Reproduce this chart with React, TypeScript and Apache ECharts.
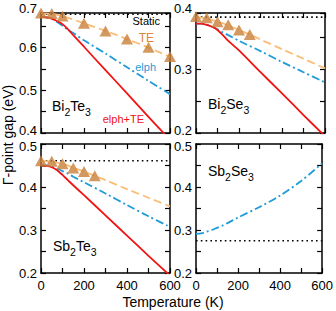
import React, { useEffect, useRef } from 'react';
import * as echarts from 'echarts';

const FONT = '"Liberation Sans", Arial, Helvetica, sans-serif';

// Temperatures (K) used for the continuous curves
const curveT = [0, 25, 50, 75, 100, 125, 150, 200, 300, 400, 500, 600];
const xTicks = [0, 200, 400, 600];

// Bi2Te3
const btStatic = 0.678;
const btTeT = [0, 50, 100, 200, 300, 400, 500, 600];
const btTe = [0.681, 0.68, 0.674, 0.657, 0.639, 0.62, 0.601, 0.579];
const btTeLine = [0.68, 0.679, 0.674, 0.657, 0.639, 0.62, 0.6, 0.578];
const btElph = [0.672, 0.671, 0.667, 0.66, 0.651, 0.642, 0.634, 0.617, 0.586, 0.554, 0.522, 0.491];
const btFull = [0.672, 0.671, 0.668, 0.662, 0.655, 0.643, 0.629, 0.602, 0.547, 0.493, 0.438, 0.384];

// Bi2Se3
const bsStatic = 0.381;
const bsTeT = [0, 50, 100, 150, 200, 250];
const bsTe = [0.382, 0.38, 0.374, 0.369, 0.361, 0.354];
const bsTeLineT = [0, 50, 100, 150, 200, 250, 300, 400, 500, 600];
const bsTeLine = [0.381, 0.379, 0.374, 0.368, 0.361, 0.354, 0.346, 0.331, 0.316, 0.301];
const bsElph = [0.371, 0.371, 0.369, 0.366, 0.362, 0.357, 0.353, 0.344, 0.328, 0.311, 0.295, 0.279];
const bsFull = [0.371, 0.371, 0.369, 0.366, 0.361, 0.353, 0.344, 0.329, 0.295, 0.262, 0.228, 0.195];

// Sb2Te3
const stStatic = 0.461;
const stTeT = [0, 50, 100, 150, 200, 250];
const stTe = [0.461, 0.46, 0.454, 0.444, 0.436, 0.426];
const stTeLineT = [0, 50, 100, 150, 200, 250, 300, 400, 500, 600];
const stTeLine = [0.46, 0.459, 0.454, 0.445, 0.436, 0.426, 0.416, 0.395, 0.375, 0.355];
const stElph = [0.45, 0.45, 0.447, 0.443, 0.437, 0.431, 0.424, 0.411, 0.385, 0.358, 0.332, 0.307];
const stFull = [0.45, 0.449, 0.446, 0.439, 0.428, 0.416, 0.404, 0.381, 0.334, 0.287, 0.24, 0.194];

// Sb2Se3
const ssStatic = 0.275;
const ssElph = [0.291, 0.292, 0.296, 0.3, 0.305, 0.31, 0.316, 0.329, 0.353, 0.38, 0.414, 0.455];

const RED = '#f01414';
const BLUE = '#1f9bd7';
const ORANGE_LINE = '#fbbd76';
const TRI = '#c8803a';
const TE_TEXT = '#e0843c';

type Panel = {
  grid: { left: number; top: number; width: number; height: number };
  ymin: number;
  ymax: number;
  topLabel?: string;
  row: 'top' | 'bottom';
  staticV: number;
  teT?: number[];
  te?: number[];
  teLineT?: number[];
  teLine?: number[];
  elph: number[];
  full?: number[];
};

const panels: Panel[] = [
  {
    grid: { left: 41, top: 13, width: 129, height: 120 },
    ymin: 0.4, ymax: 0.681, topLabel: '0.7', row: 'top',
    staticV: btStatic, teT: btTeT, te: btTe, teLineT: btTeT, teLine: btTeLine, elph: btElph, full: btFull,
  },
  {
    grid: { left: 196, top: 13, width: 129, height: 120 },
    ymin: 0.2, ymax: 0.3875, topLabel: '0.4', row: 'top',
    staticV: bsStatic, teT: bsTeT, te: bsTe, teLineT: bsTeLineT, teLine: bsTeLine, elph: bsElph, full: bsFull,
  },
  {
    grid: { left: 41, top: 144, width: 129, height: 129 },
    ymin: 0.2, ymax: 0.5, row: 'bottom',
    staticV: stStatic, teT: stTeT, te: stTe, teLineT: stTeLineT, teLine: stTeLine, elph: stElph, full: stFull,
  },
  {
    grid: { left: 196, top: 144, width: 129, height: 129 },
    ymin: 0.2, ymax: 0.5, row: 'bottom',
    staticV: ssStatic, elph: ssElph,
  },
];

const zip = (xs: number[], ys: number[]) => xs.map((x, i) => [x, ys[i]]);

function buildOption() {
  const grids = panels.map((p) => ({ ...p.grid, containLabel: false }));
  const tickStyle = { inside: true, length: 5, lineStyle: { color: '#000', width: 1.2 } };
  const lineStyle = { lineStyle: { color: '#000', width: 1.5 } };
  const lbl = { fontSize: 13, lineHeight: 10, fontFamily: FONT, color: '#000' };
  const xAxes: any[] = [];
  const yAxes: any[] = [];
  panels.forEach((p, i) => {
    xAxes.push({
      type: 'value', gridIndex: i, position: 'bottom', min: 0, max: 600, interval: 100,
      axisLine: { show: true, onZero: false, ...lineStyle }, axisTick: tickStyle, splitLine: { show: false },
      axisLabel: {
        show: p.row === 'bottom', margin: 7, ...lbl,
        showMinLabel: true, showMaxLabel: true,
        formatter: (v: number) => (xTicks.includes(v) ? String(v) : ''),
      },
    });
  });
  panels.forEach((p, i) => {
    xAxes.push({
      type: 'value', gridIndex: i, position: 'top', min: 0, max: 600, interval: 100,
      axisLine: { show: true, onZero: false, ...lineStyle }, axisTick: tickStyle, splitLine: { show: false },
      axisLabel: { show: false },
    });
  });
  panels.forEach((p, i) => {
    yAxes.push({
      type: 'value', gridIndex: i, position: 'left', min: p.ymin, max: p.ymax, interval: 0.05,
      axisLine: { show: true, onZero: false, ...lineStyle }, axisTick: tickStyle, splitLine: { show: false },
      axisLabel: {
        margin: 4, ...lbl,
        showMinLabel: true, showMaxLabel: true,
        rich: {
          t: { ...lbl, padding: [0, 0, 10, 0] },
          up: { ...lbl, padding: [0, 0, 5, 0] },
          dn: { ...lbl, padding: [5, 0, 0, 0] },
        },
        formatter: (v: number) => {
          if (p.topLabel && Math.abs(v - p.ymax) < 1e-6) return '{t|' + p.topLabel + '}';
          const r = Math.round(v * 100);
          if (r % 10 !== 0) return '';
          const s = (r / 100).toFixed(1);
          if (p.row === 'top' && Math.abs(v - p.ymin) < 1e-6) return '{up|' + s + '}';
          if (p.row === 'bottom' && Math.abs(v - p.ymax) < 1e-6) return '{dn|' + s + '}';
          return s;
        },
      },
    });
  });
  panels.forEach((p, i) => {
    yAxes.push({
      type: 'value', gridIndex: i, position: 'right', min: p.ymin, max: p.ymax, interval: 0.05,
      axisLine: { show: true, onZero: false, ...lineStyle }, axisTick: tickStyle, splitLine: { show: false },
      axisLabel: { show: false },
    });
  });

  const series: any[] = [];
  panels.forEach((p, i) => {
    const ax = { xAxisIndex: i, yAxisIndex: i };
    series.push({
      type: 'line', ...ax, data: [[0, p.staticV], [600, p.staticV]], symbol: 'none', silent: true,
      lineStyle: { color: '#000', width: 1.6, type: [1.6, 3.2] }, z: 2,
    });
    if (p.teLine && p.teLineT) {
      series.push({
        type: 'line', ...ax, data: zip(p.teLineT, p.teLine), symbol: 'none', smooth: 0.3, silent: true,
        lineStyle: { color: ORANGE_LINE, width: 1.8, type: [8, 4] }, z: 3,
      });
    }
    series.push({
      type: 'line', ...ax, data: zip(curveT, p.elph), symbol: 'none', smooth: 0.3, silent: true,
      lineStyle: { color: BLUE, width: 1.8, type: [8, 3, 2, 3] }, z: 4,
    });
    if (p.full) {
      series.push({
        type: 'line', ...ax, data: zip(curveT, p.full), symbol: 'none', smooth: 0.3, silent: true,
        lineStyle: { color: RED, width: 1.8 }, z: 5,
      });
    }
    if (p.te && p.teT) {
      series.push({
        type: 'scatter', ...ax, data: zip(p.teT, p.te), symbol: 'triangle', symbolSize: [12, 11],
        itemStyle: { color: TRI }, clip: false, silent: true, z: 6,
      });
    }
  });

  const sub = (a: string, b: string, c: string, d: string) => `{b|${a}}{s|${b}}{b|${c}}{s|${d}}`;
  const rich = {
    b: { fontSize: 14, fontFamily: FONT, color: '#000', verticalAlign: 'middle' },
    s: { fontSize: 10.5, fontFamily: FONT, color: '#000', verticalAlign: 'middle', padding: [11, 0, 0, 0] },
  };
  const label = (x: number, y: number, a: string, b: string, c: string, d: string) => ({
    type: 'text', x, y, z: 100,
    style: { text: sub(a, b, c, d), rich, align: 'left', verticalAlign: 'middle' },
  });
  const small = (x: number, y: number, text: string, color: string, size = 11) => ({
    type: 'text', x, y, z: 100,
    style: { text, font: `${size}px ${FONT}`, fill: color, align: 'right', verticalAlign: 'middle' },
  });

  const graphic: any[] = [
    {
      type: 'text', x: 8, y: 135, rotation: Math.PI / 2, z: 100,
      style: { text: 'Γ-point gap (eV)', font: `14px ${FONT}`, fill: '#000', align: 'center', verticalAlign: 'middle' },
    },
    {
      type: 'text', x: 173, y: 302, z: 100,
      style: { text: 'Temperature (K)', font: `14px ${FONT}`, fill: '#000', align: 'center', verticalAlign: 'middle' },
    },
    label(52, 106, 'Bi', '2', 'Te', '3'),
    label(208, 104, 'Bi', '2', 'Se', '3'),
    label(53, 246, 'Sb', '2', 'Te', '3'),
    label(208, 171, 'Sb', '2', 'Se', '3'),
    small(160, 21, 'Static', '#000'),
    small(154, 38, 'TE', TE_TEXT, 12),
    small(156, 67, 'elph', BLUE),
    small(144, 119, 'elph+TE', RED),
  ];

  return {
    animation: false,
    backgroundColor: '#fff',
    grid: grids,
    xAxis: xAxes,
    yAxis: yAxes,
    series,
    graphic,
  };
}

export default function App() {
  const ref = useRef<HTMLDivElement>(null);
  useEffect(() => {
    if (!ref.current) return;
    const chart = echarts.init(ref.current, undefined, { renderer: 'svg' });
    chart.setOption(buildOption() as any);
    return () => chart.dispose();
  }, []);
  return (
    <div
      ref={ref}
      style={{ position: 'fixed', left: 0, top: 0, width: 336, height: 311, background: '#fff' }}
    />
  );
}
